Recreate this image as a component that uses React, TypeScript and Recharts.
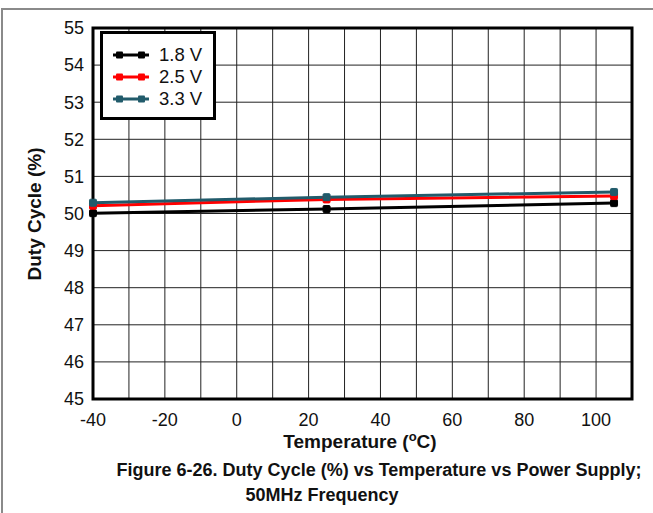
import { CartesianGrid, Line, LineChart, ReferenceArea, XAxis, YAxis } from "recharts";

const temps = [-40, 25, 105];
const v18 = [50.01, 50.12, 50.28];
const v25 = [50.21, 50.38, 50.47];
const v33 = [50.29, 50.44, 50.58];

const xTicks = [-40, -30, -20, -10, 0, 10, 20, 30, 40, 50, 60, 70, 80, 90, 100, 110];
const yTicks = [45, 46, 47, 48, 49, 50, 51, 52, 53, 54, 55];

const series = [
  { key: "v18", name: "1.8 V", color: "#000000" },
  { key: "v25", name: "2.5 V", color: "#ff0000" },
  { key: "v33", name: "3.3 V", color: "#215b6b" },
];

const data = temps.map((t, i) => ({ t, v18: v18[i], v25: v25[i], v33: v33[i] }));

const font = "'Liberation Sans', Arial, sans-serif";

function SquareDot(props: any) {
  const { cx, cy, stroke } = props;
  if (cx == null || cy == null) return null;
  return <rect x={cx - 3.5} y={cy - 3.5} width={7} height={7} rx={1} fill={stroke} stroke={stroke} strokeWidth={1} />;
}

function LegendBox() {
  return (
    <div
      style={{
        position: "absolute",
        left: 100,
        top: 31,
        width: 116,
        height: 89,
        border: "3px solid #000",
        background: "#fff",
        boxSizing: "border-box",
        padding: "10px 0 0 8px",
        fontFamily: font,
        fontSize: 18.5,
        color: "#111",
      }}
    >
      {series.map((s) => (
        <div key={s.key} style={{ display: "flex", alignItems: "center", height: 22 }}>
          <svg width={40} height={10}>
            <line x1={2} y1={5} x2={38} y2={5} stroke={s.color} strokeWidth={3} />
            <rect x={5} y={1.5} width={7} height={7} rx={1} fill={s.color} />
            <rect x={27} y={1.5} width={7} height={7} rx={1} fill={s.color} />
          </svg>
          <span style={{ marginLeft: 8 }}>{s.name}</span>
        </div>
      ))}
    </div>
  );
}

export default function App() {
  return (
    <div
      style={{
        position: "absolute",
        left: 0,
        top: 0,
        width: 653,
        height: 513,
        background: "#fff",
        overflow: "hidden",
        fontFamily: font,
        color: "#111",
      }}
    >
      <div
        style={{
          position: "absolute",
          left: 1,
          top: 8,
          width: 660,
          height: 520,
          border: "2px solid #8a8a8a",
          boxSizing: "border-box",
        }}
      />
      <LineChart
        width={653}
        height={513}
        data={data}
        margin={{ top: 28, right: 21, bottom: 0, left: 0 }}
        style={{ position: "absolute", left: 0, top: 0 }}
      >
        <CartesianGrid stroke="#222" strokeWidth={1} horizontal vertical />
        <XAxis
          dataKey="t"
          type="number"
          domain={[-40, 110]}
          ticks={xTicks}
          interval={0}
          height={114}
          tickLine={false}
          axisLine={false}
          tickSize={6}
          tickMargin={8}
          tick={{ fill: "#111", fontSize: 18, fontFamily: font }}
          tickFormatter={(v: number) => (v % 20 === 0 && v <= 100 ? String(v) : "")}
        />
        <YAxis
          type="number"
          domain={[45, 55]}
          ticks={yTicks}
          interval={0}
          width={93}
          tickLine={false}
          axisLine={false}
          tickSize={6}
          tickMargin={3}
          tick={{ fill: "#111", fontSize: 18, fontFamily: font }}
        />
        <ReferenceArea x1={-40} x2={110} y1={45} y2={55} fill="none" stroke="#000" strokeWidth={3} ifOverflow="visible" />
        {series.map((s) => (
          <Line
            key={s.key}
            dataKey={s.key}
            name={s.name}
            stroke={s.color}
            strokeWidth={3}
            dot={<SquareDot />}
            isAnimationActive={false}
          />
        ))}
      </LineChart>
      <LegendBox />
      <div
        style={{
          position: "absolute",
          left: 360,
          top: 429,
          transform: "translateX(-50%)",
          whiteSpace: "nowrap",
          fontWeight: "bold",
          fontSize: 19,
        }}
      >
        Temperature (<sup style={{ fontSize: 13, verticalAlign: "7px" }}>o</sup>C)
      </div>
      <div
        style={{
          position: "absolute",
          left: 35,
          top: 214,
          transform: "translate(-50%, -50%) rotate(-90deg)",
          whiteSpace: "nowrap",
          fontWeight: "bold",
          fontSize: 19,
        }}
      >
        Duty Cycle (%)
      </div>
      <div
        style={{
          position: "absolute",
          left: 379,
          top: 460,
          transform: "translateX(-50%)",
          whiteSpace: "nowrap",
          fontWeight: "bold",
          fontSize: 18,
        }}
      >
        Figure 6-26. Duty Cycle (%) vs Temperature vs Power Supply;
      </div>
      <div
        style={{
          position: "absolute",
          left: 322,
          top: 485,
          transform: "translateX(-50%)",
          whiteSpace: "nowrap",
          fontWeight: "bold",
          fontSize: 18,
        }}
      >
        50MHz Frequency
      </div>
    </div>
  );
}
